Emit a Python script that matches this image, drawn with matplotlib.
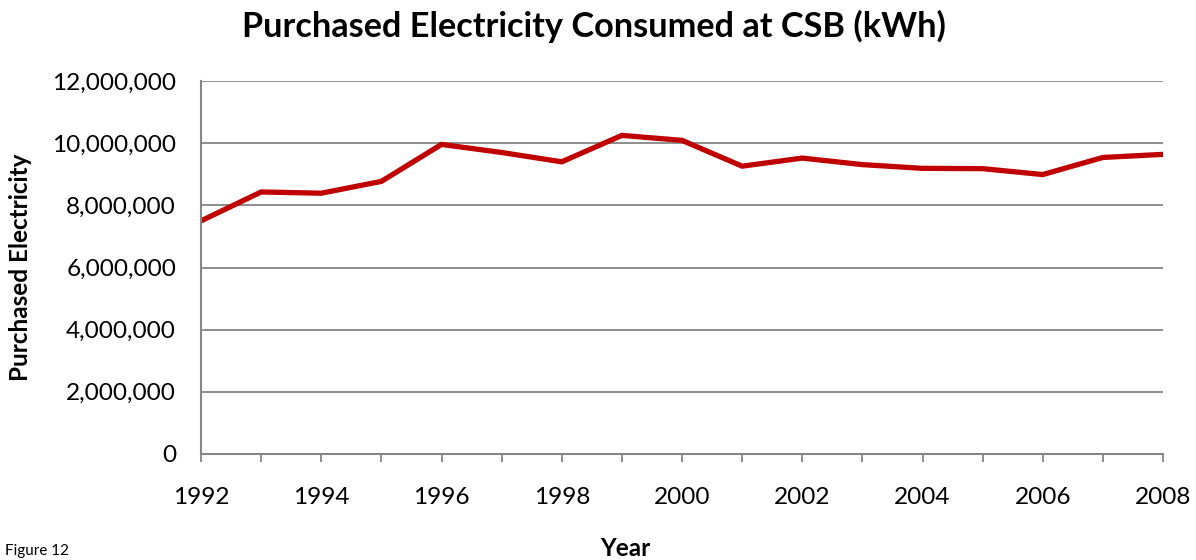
import matplotlib.pyplot as plt
from matplotlib.ticker import FuncFormatter, MultipleLocator

# purchased electricity per year (kWh)
years = [1992, 1993, 1994, 1995, 1996, 1997, 1998, 1999, 2000,
         2001, 2002, 2003, 2004, 2005, 2006, 2007, 2008]
kwh = [7500000, 8430000, 8390000, 8770000, 9960000, 9700000, 9400000, 10250000, 10090000,
       9260000, 9520000, 9310000, 9190000, 9180000, 8990000, 9540000, 9640000]

plt.rcParams['font.family'] = ['Lato', 'DejaVu Sans']
grey = '#868686'

fig = plt.figure(figsize=(11.96, 5.6), dpi=100)
ax = fig.add_axes([201 / 1196, 1 - 454 / 560, 962 / 1196, 373 / 560])

ax.plot(years, kwh, color='#C00000', linewidth=3.8, solid_joinstyle='miter')

ax.set_xlim(1992, 2008)
ax.set_ylim(0, 12000000)
ax.xaxis.set_major_locator(MultipleLocator(2))
ax.xaxis.set_minor_locator(MultipleLocator(1))
ax.yaxis.set_major_locator(MultipleLocator(2000000))
ax.yaxis.set_major_formatter(FuncFormatter(lambda v, p: f'{int(v):,}'))

ax.grid(axis='y', color=grey, linewidth=1.3)
ax.set_axisbelow(True)
for s in ['top', 'right']:
    ax.spines[s].set_visible(False)
for s in ['left', 'bottom']:
    ax.spines[s].set_color(grey)
    ax.spines[s].set_linewidth(1.5)

ax.tick_params(axis='y', length=0, pad=18, labelsize=17.6, colors='black')
ax.tick_params(axis='x', which='both', direction='out', length=6, width=1.3,
               color=grey, pad=18, labelsize=17.6)

fig.text(0.497, 0.952, 'Purchased Electricity Consumed at CSB (kWh)',
         ha='center', va='center', fontsize=24.7, fontweight='bold')
fig.text(0.017, 0.523, 'Purchased Electricity', rotation=90,
         ha='center', va='center', fontsize=17.5, fontweight='bold')
fig.text(0.523, 0.021, 'Year', ha='center', va='center', fontsize=17.5, fontweight='bold')
fig.text(0.004, 0.004, 'Figure 12', ha='left', va='bottom', fontsize=11)

fig.savefig('out.png', dpi=100)
